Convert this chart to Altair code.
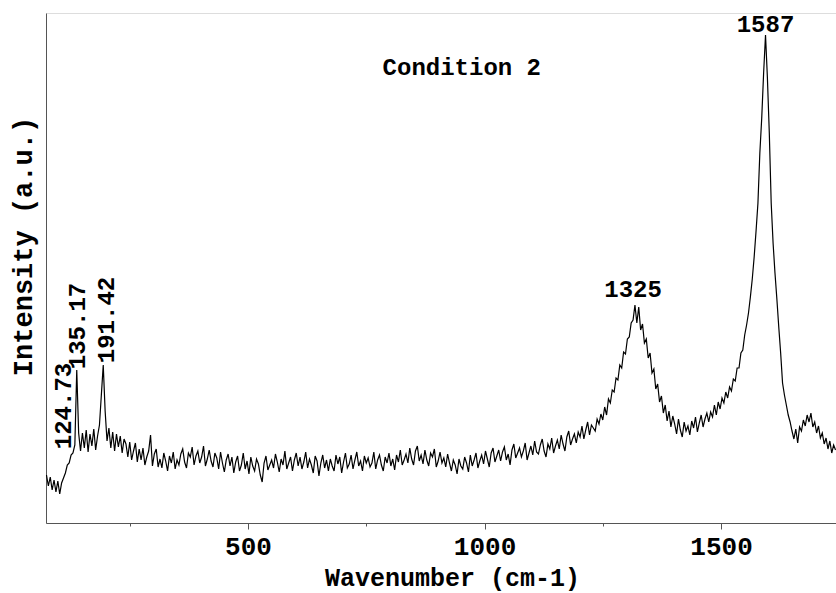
import altair as alt
import pandas as pd

WN_START = 74
WN_STEP = 4
intensity = [
    48, 37, 46, 33, 43, 31, 42, 29, 40, 45,
    50, 58, 60, 68, 70, 78, 153, 90, 72, 90,
    75, 93, 71, 89, 77, 94, 73, 87, 98, 128,
    158, 112, 82, 95, 75, 91, 72, 89, 76, 87,
    70, 84, 79, 66, 81, 63, 72, 80, 61, 74,
    63, 75, 58, 66, 72, 88, 57, 69, 74, 56,
    64, 55, 70, 62, 52, 67, 60, 71, 54, 63,
    58, 69, 74, 61, 55, 70, 66, 76, 58, 67,
    72, 60, 66, 77, 57, 64, 73, 62, 56, 70,
    65, 54, 71, 60, 51, 63, 69, 57, 66, 50,
    61, 67, 52, 58, 70, 54, 62, 49, 66, 57,
    52, 64, 59, 48, 41, 60, 67, 53, 58, 63,
    55, 69, 61, 51, 64, 58, 72, 54, 60, 66,
    52, 63, 70, 57, 66, 54, 61, 71, 55, 64,
    58, 50, 67, 62, 47, 60, 68, 55, 63, 52,
    64, 57, 52, 68, 59, 66, 50, 61, 70, 55,
    59, 68, 54, 63, 71, 57, 62, 52, 67, 60,
    65, 56, 60, 71, 54, 63, 68, 58, 52, 66,
    60, 70, 57, 64, 53, 68, 61, 73, 58, 63,
    69, 60, 75, 64, 58, 72, 77, 62, 68, 59,
    73, 63, 57, 70, 66, 74, 56, 62, 71, 60,
    65, 56, 69, 60, 52, 63, 58, 49, 64, 57,
    54, 66, 60, 51, 68, 57, 63, 70, 55, 62,
    68, 59, 72, 64, 56, 70, 75, 61, 67, 73,
    62, 71, 76, 63, 69, 58, 73, 79, 65, 70,
    75, 66, 72, 80, 63, 70, 77, 68, 82, 71,
    69, 78, 84, 72, 66, 79, 74, 85, 70, 77,
    83, 74, 88, 79, 72, 86, 92, 78, 84, 89,
    80, 91, 86, 97, 84, 93, 101, 88, 98, 95,
    92, 104, 99, 109, 103, 116, 108, 124, 120, 133,
    131, 145, 143, 158, 155, 171, 169, 184, 186, 200,
    203, 218, 200, 216, 193, 199, 180, 184, 165, 170,
    150, 154, 134, 139, 121, 127, 110, 118, 102, 112,
    96, 107, 99, 89, 104, 93, 86, 101, 92, 97,
    88, 102, 95, 106, 91, 100, 108, 96, 104, 110,
    101, 111, 106, 118, 108, 121, 114, 125, 120, 131,
    125, 136, 132, 144, 142, 155, 155, 170, 173, 188,
    198, 210, 226, 244, 266, 292, 320, 370, 405, 450,
    488, 445, 390, 320, 280, 250, 224, 196, 170, 140,
    128, 118, 108, 101, 92, 84, 94, 80, 96, 92,
    103, 97, 108, 101, 110, 96, 101, 90, 97, 85,
    90, 79, 85, 74, 82, 70, 78, 73,
]
wavenumber = list(range(WN_START, WN_START + WN_STEP * len(intensity), WN_STEP))

# annotations
flat_labels = ["Condition 2", "1325", "1587"]
flat_x = [952, 1314, 1594]
flat_y = [455, 233, 498]

peak_labels = ["124.73", "135.17", "191.42"]
peak_x = [111, 141, 202]
peak_y = [117, 197, 203]

x_ticks = [250, 500, 750, 1000, 1250, 1500]
x_domain = [73, 1743]
y_domain = [0, 510]

FONT = "Courier New, Nimbus Mono PS, FreeMono, Liberation Mono, monospace"

spec = pd.DataFrame({"wn": wavenumber, "I": intensity})
flat = pd.DataFrame({"label": flat_labels, "wn": flat_x, "I": flat_y})
peaks = pd.DataFrame({"label": peak_labels, "wn": peak_x, "I": peak_y})

xscale = alt.Scale(domain=x_domain, nice=False, zero=False)
yscale = alt.Scale(domain=y_domain, nice=False, zero=False)

line = alt.Chart(spec).mark_line(color="black", strokeWidth=1.2).encode(
    x=alt.X(
        "wn:Q",
        scale=xscale,
        axis=alt.Axis(
            title="Wavenumber (cm-1)",
            values=x_ticks,
            format="d",
            labelExpr="datum.value % 500 == 0 ? datum.label : ''",
            grid=False,
            domainColor="#555555",
            tickColor="#555555",
            tickSize=alt.condition("datum.value % 500 == 0", alt.value(6), alt.value(3)),
            labelFont=FONT,
            labelFontSize=26,
            labelFontWeight="bold",
            labelColor="black",
            labelPadding=4,
            titleFont=FONT,
            titleFontSize=25,
            titleFontWeight="bold",
            titleColor="black",
            titleX=406,
            titleY=54,
            titleBaseline="middle",
            titleAlign="center",
        ),
    ),
    y=alt.Y(
        "I:Q",
        scale=yscale,
        axis=alt.Axis(
            title="Intensity (a.u.)",
            ticks=False,
            labels=False,
            grid=False,
            domainColor="#555555",
            titleFont=FONT,
            titleFontSize=27,
            titleFontWeight="bold",
            titleColor="black",
            titleAngle=270,
            titleX=-23,
            titleY=233,
            titleBaseline="middle",
            titleAlign="center",
        ),
    ),
)

flat_text = alt.Chart(flat).mark_text(
    font=FONT, fontSize=24, fontWeight="bold", color="black",
    align="center", baseline="middle",
).encode(
    x=alt.X("wn:Q", scale=xscale),
    y=alt.Y("I:Q", scale=yscale),
    text="label:N",
)

peak_text = alt.Chart(peaks).mark_text(
    font=FONT, fontSize=24, fontWeight="bold", color="black",
    align="center", baseline="middle", angle=270,
).encode(
    x=alt.X("wn:Q", scale=xscale),
    y=alt.Y("I:Q", scale=yscale),
    text="label:N",
)

chart = (
    alt.layer(line, flat_text, peak_text)
    .properties(
        width=790,
        height=510,
        autosize=alt.AutoSizeParams(type="none"),
        padding={"left": 46, "top": 13, "right": 0, "bottom": 70},
    )
    .configure_view(stroke=None)
    .configure(background="white")
)

chart.save("out.html", embed_options={"renderer": "svg", "actions": False})
